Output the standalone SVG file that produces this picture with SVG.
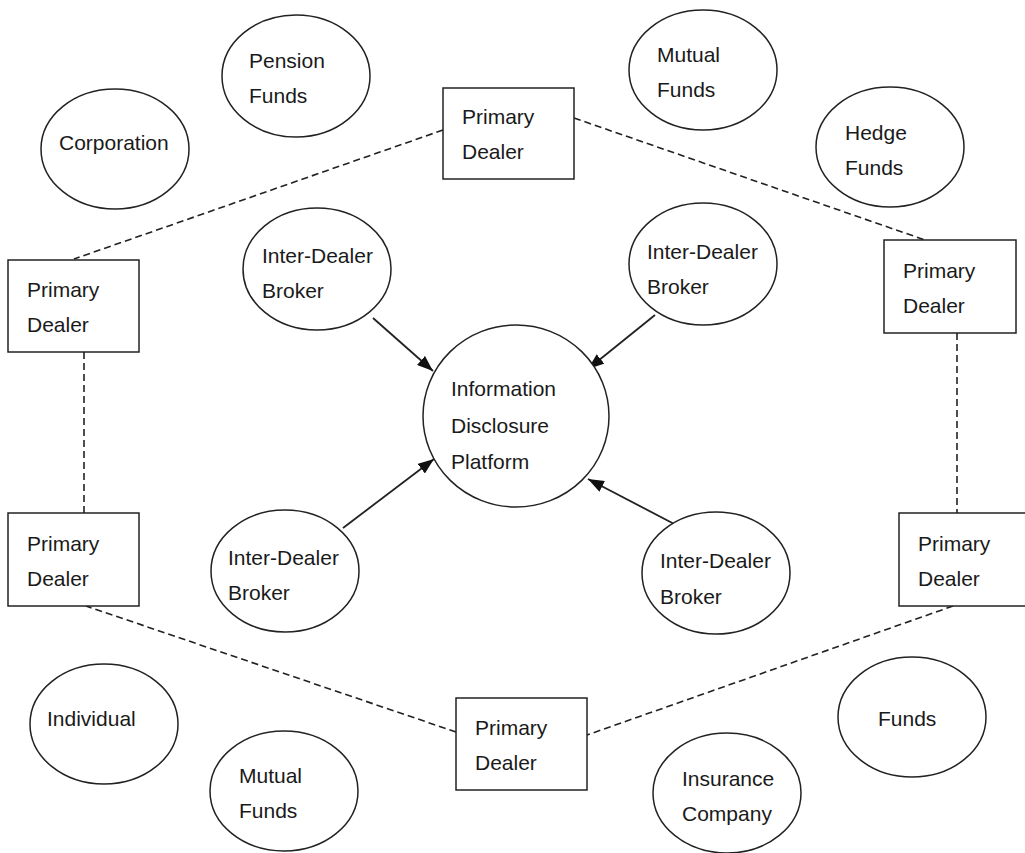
<svg xmlns="http://www.w3.org/2000/svg" width="1025" height="853" viewBox="0 0 1025 853">
<defs>
<style>
.n{fill:#fff;stroke:#222;stroke-width:1.5}
.t{font-family:"Liberation Sans",Arial,sans-serif;font-size:21px;fill:#1a1a1a}
.d{fill:none;stroke:#222;stroke-width:1.6;stroke-dasharray:7 4}
.a{fill:none;stroke:#222;stroke-width:1.8;marker-end:url(#ah)}
</style>
<marker id="ah" viewBox="0 0 16 12" refX="16" refY="6" markerWidth="16" markerHeight="12" markerUnits="userSpaceOnUse" orient="auto">
<path d="M0,0 L16,6 L0,12 z" fill="#111"/>
</marker>
</defs>
<rect width="1025" height="853" fill="#fff"/>
<g id="connectors">
<line class="d" x1="443" y1="130" x2="74" y2="259"/>
<line class="d" x1="574" y1="118" x2="925" y2="240"/>
<line class="d" x1="957" y1="333" x2="957" y2="513"/>
<line class="d" x1="953" y1="606" x2="587" y2="735"/>
<line class="d" x1="456" y1="732" x2="86" y2="606"/>
<line class="d" x1="84" y1="513" x2="84" y2="352"/>
<line class="a" x1="373" y1="318" x2="433" y2="371"/>
<line class="a" x1="655" y1="315" x2="588" y2="369"/>
<line class="a" x1="343" y1="528" x2="434" y2="459"/>
<line class="a" x1="680" y1="527" x2="588" y2="479"/>
</g>
<g id="pension-funds"><ellipse class="n" cx="296" cy="76" rx="74" ry="61"/><text class="t" x="249" y="68">Pension</text><text class="t" x="249" y="103">Funds</text></g>
<g id="corporation"><ellipse class="n" cx="115" cy="149" rx="74" ry="60"/><text class="t" x="59" y="150">Corporation</text></g>
<g id="mutual-funds-top"><ellipse class="n" cx="703" cy="70" rx="74" ry="60"/><text class="t" x="657" y="62">Mutual</text><text class="t" x="657" y="97">Funds</text></g>
<g id="hedge-funds"><ellipse class="n" cx="890" cy="147" rx="74" ry="60"/><text class="t" x="845" y="140">Hedge</text><text class="t" x="845" y="175">Funds</text></g>
<g id="pd-top"><rect class="n" x="443" y="88" width="131" height="91"/><text class="t" x="462" y="124">Primary</text><text class="t" x="462" y="159">Dealer</text></g>
<g id="pd-left"><rect class="n" x="8" y="260" width="131" height="92"/><text class="t" x="27" y="297">Primary</text><text class="t" x="27" y="332">Dealer</text></g>
<g id="pd-right"><rect class="n" x="884" y="240" width="132" height="93"/><text class="t" x="903" y="278">Primary</text><text class="t" x="903" y="313">Dealer</text></g>
<g id="idb-tl"><ellipse class="n" cx="317" cy="269" rx="74" ry="61"/><text class="t" x="262" y="263">Inter-Dealer</text><text class="t" x="262" y="298">Broker</text></g>
<g id="idb-tr"><ellipse class="n" cx="703" cy="264" rx="74" ry="61"/><text class="t" x="647" y="259">Inter-Dealer</text><text class="t" x="647" y="294">Broker</text></g>
<g id="platform"><ellipse class="n" cx="516" cy="416" rx="93" ry="91"/><text class="t" x="451" y="396">Information</text><text class="t" x="451" y="433">Disclosure</text><text class="t" x="451" y="469">Platform</text></g>
<g id="pd-left-bottom"><rect class="n" x="8" y="513" width="131" height="93"/><text class="t" x="27" y="551">Primary</text><text class="t" x="27" y="586">Dealer</text></g>
<g id="idb-bl"><ellipse class="n" cx="285" cy="571" rx="74" ry="61"/><text class="t" x="228" y="565">Inter-Dealer</text><text class="t" x="228" y="600">Broker</text></g>
<g id="idb-br"><ellipse class="n" cx="716" cy="573" rx="74" ry="61"/><text class="t" x="660" y="568">Inter-Dealer</text><text class="t" x="660" y="604">Broker</text></g>
<g id="pd-right-bottom"><rect class="n" x="899" y="513" width="130" height="93"/><text class="t" x="918" y="551">Primary</text><text class="t" x="918" y="586">Dealer</text></g>
<g id="individual"><ellipse class="n" cx="104" cy="724" rx="74" ry="60"/><text class="t" x="47" y="726">Individual</text></g>
<g id="mutual-funds-bottom"><ellipse class="n" cx="284" cy="791" rx="74" ry="60"/><text class="t" x="239" y="783">Mutual</text><text class="t" x="239" y="818">Funds</text></g>
<g id="pd-bottom"><rect class="n" x="456" y="698" width="131" height="92"/><text class="t" x="475" y="735">Primary</text><text class="t" x="475" y="770">Dealer</text></g>
<g id="insurance-company"><ellipse class="n" cx="727" cy="793" rx="74" ry="60"/><text class="t" x="682" y="786">Insurance</text><text class="t" x="682" y="821">Company</text></g>
<g id="funds"><ellipse class="n" cx="912" cy="717" rx="74" ry="60"/><text class="t" x="878" y="726">Funds</text></g>
</svg>
